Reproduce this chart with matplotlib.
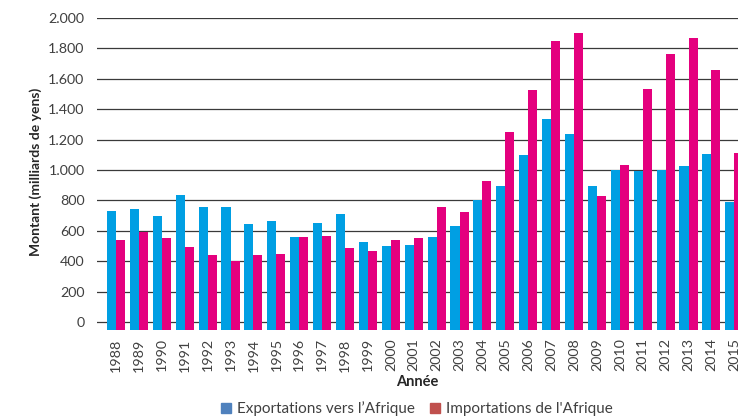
import numpy as np
import matplotlib
matplotlib.use('Agg')
import matplotlib.pyplot as plt
from matplotlib.patches import Patch

plt.rcParams['font.family'] = ['Lato', 'DejaVu Sans']

years = [str(y) for y in range(1988, 2016)]
exports = [730, 743, 697, 835, 756, 756, 644, 664, 558, 651, 710, 525,
           499, 505, 558, 631, 802, 895, 1099, 1336, 1237, 895, 1000, 993,
           1000, 1026, 1105, 789]
imports = [541, 591, 552, 492, 440, 402, 440, 446, 558, 565, 486, 466,
           538, 552, 756, 723, 927, 1251, 1527, 1851, 1903, 829, 1033, 1534,
           1765, 1870, 1659, 1112]
yticks = list(range(0, 2001, 200))
ytick_labels = ['{:,}'.format(v).replace(',', '.') for v in yticks]

blue = '#009FE3'
pink = '#E4007E'
text_col = '#404040'

W, H = 738, 417
fig = plt.figure(figsize=(W / 100, H / 100), dpi=100)
ax = fig.add_axes([97 / W, 1 - 330 / H, (W - 97) / W, (330 - 18) / H])

x = np.arange(len(years))
bw = 0.395
base = -53  # bars start a little below the zero line
ax.bar(x - bw / 2, np.array(exports) - base, bw, bottom=base, color=blue, zorder=3)
ax.bar(x + bw / 2, np.array(imports) - base, bw, bottom=base, color=pink, zorder=3)

ax.set_xlim(-0.83, 27.16)
ax.set_ylim(base, 2000)
for v in yticks:
    ax.axhline(v, color='#3a3a3a', lw=0.9, zorder=1)

ax.set_yticks(yticks)
ax.set_yticklabels(ytick_labels, fontsize=10.3, color=text_col)
ax.set_xticks(x)
ax.set_xticklabels(years, rotation=90, fontsize=10.3, color=text_col)
ax.tick_params(axis='y', length=0, pad=9)
ax.tick_params(axis='x', length=0, pad=6)
for s in ax.spines.values():
    s.set_visible(False)

fig.text(36 / W, 1 - 172 / H, 'Montant (milliards de yens)', rotation=90,
         ha='center', va='center', fontsize=10, fontweight='bold', color='#262626')
fig.text(417 / W, 1 - 382 / H, 'Année', ha='center', va='center',
         fontsize=10.5, fontweight='bold', color='#262626')

handles = [Patch(color='#4F81BD', label='Exportations vers l’Afrique'),
           Patch(color='#C0504D', label="Importations de l'Afrique")]
fig.legend(handles=handles, loc='center', bbox_to_anchor=(417 / W, 1 - 409 / H),
           ncol=2, frameon=False, fontsize=11, handlelength=0.65, handleheight=0.65,
           handletextpad=0.4, columnspacing=1.0, labelcolor=text_col)

fig.savefig('out.png', dpi=100)
